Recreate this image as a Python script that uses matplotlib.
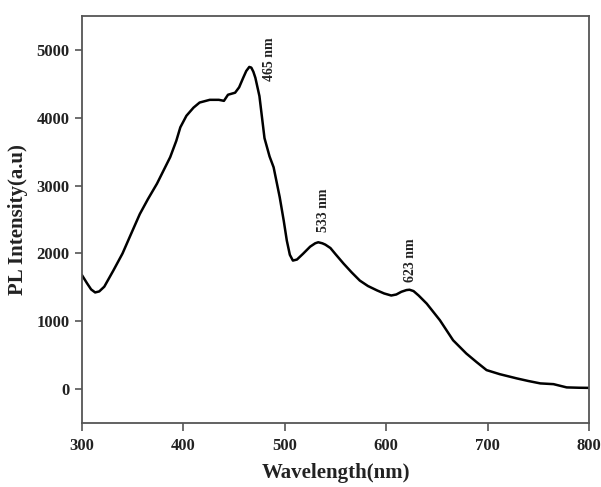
import matplotlib
matplotlib.use("Agg")
import matplotlib.pyplot as plt

# PL emission spectrum (wavelength in nm, intensity in a.u.)
wavelength = [300, 305, 309, 313, 317, 322, 331, 340, 347, 357, 365, 374, 387, 393,
              397, 403, 410, 416, 426, 435, 440, 444, 451, 455, 459, 462, 465, 467,
              469, 471, 475, 480, 485, 489, 495, 499, 502, 505, 508, 512, 518, 525,
              530, 533, 537, 540, 545, 550, 558, 566, 574, 582, 591, 598, 605, 610,
              615, 620, 623, 627, 632, 640, 653, 666, 679, 689, 699, 712, 729, 740,
              752, 765, 778, 790, 800]
intensity = [1680, 1560, 1470, 1425, 1440, 1510, 1750, 2000, 2240, 2580, 2800, 3030,
             3420, 3660, 3860, 4030, 4150, 4225, 4265, 4265, 4250, 4340, 4370, 4450,
             4590, 4690, 4750, 4740, 4680, 4590, 4320, 3700, 3430, 3270, 2830, 2480,
             2190, 1980, 1895, 1910, 1995, 2100, 2150, 2165, 2150, 2130, 2080, 1990,
             1850, 1720, 1600, 1520, 1455, 1410, 1380, 1395, 1435, 1460, 1465, 1445,
             1380, 1260, 1015, 720, 525, 400, 280, 220, 157, 120, 84, 73, 25, 20, 18]

# Peak annotations
peak_labels = ["465 nm", "533 nm", "623 nm"]
peak_label_x = [485, 538, 624]
peak_label_y = [4540, 2310, 1575]

x_ticks = [300, 400, 500, 600, 700, 800]
y_ticks = [0, 1000, 2000, 3000, 4000, 5000]

plt.rcParams["font.family"] = ["Liberation Serif", "DejaVu Serif"]
plt.rcParams["font.weight"] = "bold"

fig = plt.figure(figsize=(6.01, 4.87), dpi=100)
ax = fig.add_axes([0.1364, 0.1314, 0.8436, 0.8356])

ax.plot(wavelength, intensity, color="black", lw=1.8,
        solid_joinstyle="round", solid_capstyle="round")

for txt, lx, ly in zip(peak_labels, peak_label_x, peak_label_y):
    ax.text(lx, ly, txt, rotation=90, ha="center", va="bottom",
            fontsize=10, fontweight="bold", color="#222222")

ax.set_xlim(300, 800)
ax.set_ylim(-500, 5500)
ax.set_xticks(x_ticks)
ax.set_yticks(y_ticks)

for side in ["left", "bottom", "right", "top"]:
    ax.spines[side].set_color("#555555")
    ax.spines[side].set_linewidth(1.3)

ax.tick_params(axis="both", direction="out", color="#555555", width=1.2,
               labelsize=12, labelcolor="#222222")
ax.tick_params(axis="x", length=6, pad=5)
ax.tick_params(axis="y", length=5, pad=4)
for lab in ax.get_xticklabels() + ax.get_yticklabels():
    lab.set_fontweight("bold")

ax.set_xlabel("Wavelength(nm)", fontsize=15, fontweight="bold", color="#222222", labelpad=6)
ax.set_ylabel("PL Intensity(a.u)", fontsize=15, fontweight="bold", color="#222222", labelpad=6)

fig.savefig("out.png", dpi=100)
